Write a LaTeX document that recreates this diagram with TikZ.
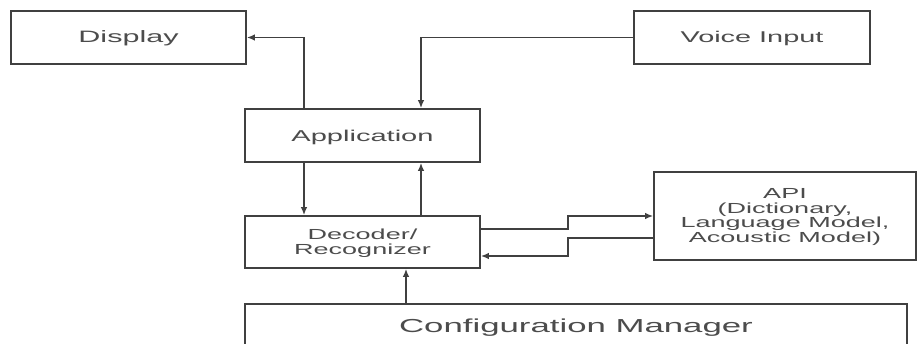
\documentclass[tikz,border=0pt]{standalone}
\usepackage{fontspec}
\setmainfont[FakeStretch=1.85]{Liberation Sans}
\usetikzlibrary{arrows.meta,calc}
\begin{document}
\begin{tikzpicture}[x=1pt,y=-1pt,
  box/.style={draw=black!75,line width=1.6pt,rectangle,inner sep=0pt,text=black!70,align=center},
  arr/.style={draw=black!75,line width=1.6pt,-{Latex[length=8pt,width=6.5pt]}},
  lbl/.style={text=black!70,align=center,inner sep=0pt}]
\clip (0,0) rectangle (917,344);
\fill[white] (0,0) rectangle (917,344);
\node[box,minimum width=235,minimum height=53] (disp) at (128.5,37.5) {};
\node[lbl,font=\fontsize{16.5}{18}\selectfont] (dispt) at (128.5,38) {Display};
\node[box,minimum width=236,minimum height=53] (voice) at (752,37.5) {};
\node[lbl,font=\fontsize{15.6}{18}\selectfont] (voicet) at (752,38.5) {Voice Input};
\node[box,minimum width=235,minimum height=53] (app) at (362.5,135.5) {};
\node[lbl,font=\fontsize{15.7}{18}\selectfont] (appt) at (362.5,137) {Application};
\node[box,minimum width=235,minimum height=52] (dec) at (362.5,242) {};
\node[lbl,font=\fontsize{14.6}{15.5}\selectfont] (dect) at (362.5,243) {Decoder/\\Recognizer};
\node[box,minimum width=262,minimum height=88] (api) at (785,216) {};
\node[lbl,font=\fontsize{14.6}{14.8}\selectfont] (apit) at (785,217) {API\\(Dictionary,\\Language Model,\\Acoustic Model)};
\node[box,minimum width=662,minimum height=46] (cfg) at (576,327) {};
\node[lbl,font=\fontsize{18.8}{20}\selectfont] (cfgt) at (576,328) {Configuration Manager};
\coordinate (m1) at (568,0);
\coordinate (d1) at ([yshift=13pt]dec.east);
\coordinate (d2) at ([yshift=-14pt]dec.east);
\coordinate (a2) at ([yshift=-22pt]api.west);
\coordinate (c1) at ([xshift=43.5pt]dec.south);
\draw[arr] ([xshift=-58.5pt]app.north) |- (disp.east);
\draw[arr] (voice.west) -| ([xshift=58.5pt]app.north);
\draw[arr] ([xshift=-58.5pt]app.south) -- ([xshift=-58.5pt]dec.north);
\draw[arr] ([xshift=58.5pt]dec.north) -- ([xshift=58.5pt]app.south);
\draw[arr] (d1) -| (m1 |- api.west) -- (api.west);
\draw[arr] (a2) -| (m1 |- d2) -- (d2);
\draw[arr] (c1 |- cfg.north) -- (c1);
\end{tikzpicture}
\end{document}
